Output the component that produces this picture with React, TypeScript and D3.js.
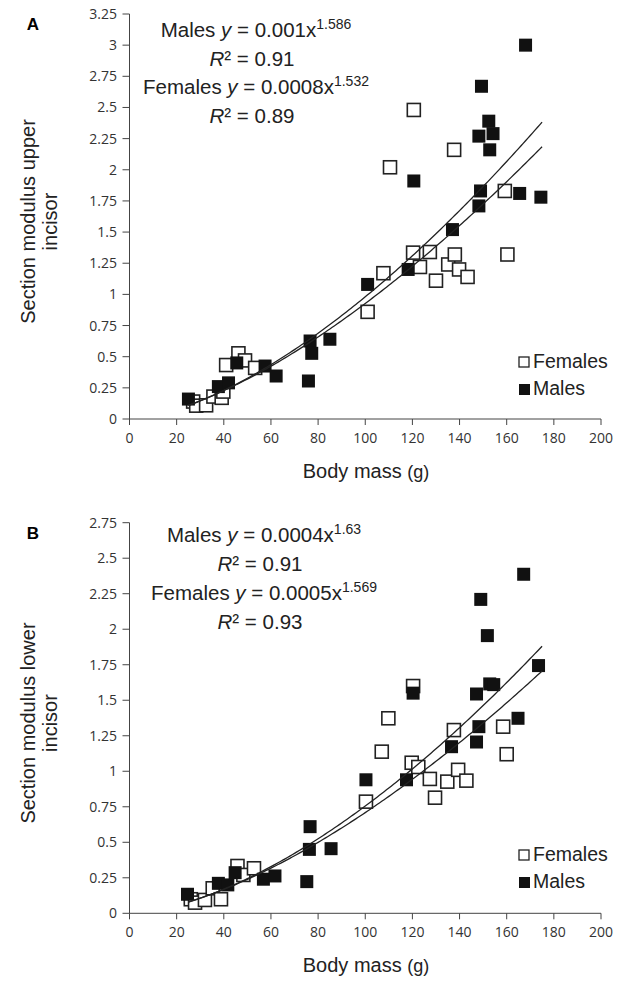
import React from "react";
import * as d3 from "d3";

// body mass (g), section modulus
const femalesUpper: [number, number][] = [
  [27, 0.14], [28.3, 0.107], [32.5, 0.11], [35.6, 0.18], [39.1, 0.17], [39.8, 0.22],
  [41, 0.433], [46.2, 0.527], [49, 0.47], [53.3, 0.41], [101, 0.86], [107.7, 1.17],
  [110.5, 2.02], [120.3, 1.335], [120.6, 2.48], [123.2, 1.22], [127.4, 1.34], [130, 1.11],
  [135.2, 1.24], [137.7, 2.16], [138, 1.32], [139.8, 1.2], [143.4, 1.14], [159.2, 1.83],
  [160.3, 1.32],
];
const malesUpper: [number, number][] = [
  [25, 0.16], [37.7, 0.26], [42, 0.29], [45.5, 0.45], [57.5, 0.425], [62.2, 0.345],
  [75.9, 0.305], [76.6, 0.626], [77.3, 0.527], [85, 0.64], [101, 1.08], [118.2, 1.2],
  [120.6, 1.91], [137, 1.52], [148.2, 1.71], [148.9, 1.83], [148.2, 2.27], [149.3, 2.67],
  [152.4, 2.39], [152.8, 2.16], [154.2, 2.29], [165.5, 1.81], [168, 3.0], [174.5, 1.78],
];
const femalesLower: [number, number][] = [
  [26, 0.099], [27.8, 0.075], [32, 0.094], [35.3, 0.176], [38.8, 0.099], [45.8, 0.333],
  [48.3, 0.27], [52.8, 0.317], [100.3, 0.786], [107, 1.138], [109.8, 1.373], [119.7, 1.06],
  [120.3, 1.6], [122.5, 1.03], [127.4, 0.946], [129.6, 0.814], [134.8, 0.927], [137.6, 1.29],
  [139.4, 1.01], [142.9, 0.934], [158.5, 1.314], [160, 1.12],
];
const malesLower: [number, number][] = [
  [24.6, 0.134], [37.7, 0.211], [41.7, 0.2], [44.8, 0.286], [56.8, 0.24], [61.7, 0.263],
  [75.2, 0.223], [76.3, 0.45], [76.6, 0.61], [85.5, 0.455], [100.3, 0.94], [117.5, 0.94],
  [120.3, 1.55], [136.6, 1.173], [147.2, 1.544], [147.2, 1.206], [148.2, 1.314], [149, 2.21],
  [151.8, 1.955], [152.8, 1.615], [154.5, 1.61], [164.8, 1.373], [167.2, 2.387], [173.5, 1.744],
];

// power-law trendlines [a, b] for y = a * x^b, as drawn
const malesFitUpper = [0.00066, 1.586];
const femalesFitUpper = [0.0008, 1.532];
const malesFitLower = [0.000415, 1.63];
const femalesFitLower = [0.000516, 1.569];
const fitRange = [25, 175];

const xTicks = [0, 20, 40, 60, 80, 100, 120, 140, 160, 180, 200];
const yTicksUpper = [0, 0.25, 0.5, 0.75, 1, 1.25, 1.5, 1.75, 2, 2.25, 2.5, 2.75, 3, 3.25];
const yTicksLower = [0, 0.25, 0.5, 0.75, 1, 1.25, 1.5, 1.75, 2, 2.25, 2.5, 2.75];

const FONT = "'Liberation Sans', Arial, sans-serif";
const TICK_FONT = "'Open Sans', 'Liberation Sans', sans-serif";
const AXIS_COLOR = "#444";

type Eq = { label: string; coef: string; exp: string; r2: string };

type PanelProps = {
  letter: string;
  top: number;
  bottom: number;
  yTicks: number[];
  females: [number, number][];
  males: [number, number][];
  maleFit: number[];
  femaleFit: number[];
  titleLine: string;
  eqs: Eq[];
  eqTop: number;
  eqCenter: number;
  eqGap: number;
  legendY: number;
  marker: number;
};

const Panel = (p: PanelProps) => {
  const x = d3.scaleLinear().domain([0, 200]).range([129.5, 601]);
  const yMax = p.yTicks[p.yTicks.length - 1];
  const y = d3.scaleLinear().domain([0, yMax]).range([p.bottom, p.top]);
  const fmt = d3.format("~g");
  const curve = (fit: number[]) =>
    d3
      .line<number>()
      .x((v) => x(v))
      .y((v) => y(fit[0] * Math.pow(v, fit[1])))(d3.range(fitRange[0], fitRange[1] + 0.5, 1));
  const s = p.marker;
  const midY = (p.top + p.bottom) / 2;

  return (
    <g>
      <text x={33} y={p.top + 16} fontFamily={FONT} fontWeight="bold" fontSize={17} textAnchor="middle">
        {p.letter}
      </text>

      {/* y axis */}
      <line x1={x(0)} x2={x(0)} y1={p.top} y2={p.bottom} stroke={AXIS_COLOR} />
      {p.yTicks.map((t) => (
        <g key={t}>
          <line x1={x(0) - 7} x2={x(0)} y1={y(t)} y2={y(t)} stroke={AXIS_COLOR} />
          <text x={117} y={y(t) + 5} textAnchor="end" fontFamily={TICK_FONT} fontSize={14} fill="#333">
            {fmt(t)}
          </text>
        </g>
      ))}

      {/* x axis */}
      <line x1={x(0)} x2={x(200)} y1={p.bottom} y2={p.bottom} stroke={AXIS_COLOR} />
      {xTicks.map((t) => (
        <g key={t}>
          <line x1={x(t)} x2={x(t)} y1={p.bottom} y2={p.bottom + 6} stroke={AXIS_COLOR} />
          <text x={x(t)} y={p.bottom + 24} textAnchor="middle" fontFamily={TICK_FONT} fontSize={14} fill="#333">
            {t}
          </text>
        </g>
      ))}

      <text
        transform={`translate(35,${midY + 5}) rotate(-90)`}
        textAnchor="middle"
        fontFamily={FONT}
        fontSize={20}
        fill="#222"
      >
        {p.titleLine}
      </text>
      <text
        transform={`translate(57,${midY + 5}) rotate(-90)`}
        textAnchor="middle"
        fontFamily={FONT}
        fontSize={20}
        fill="#222"
      >
        incisor
      </text>
      <text x={366} y={p.bottom + 59} textAnchor="middle" fontFamily={FONT} fontSize={20} fill="#222">
        Body mass <tspan fontSize={18}>(g)</tspan>
      </text>

      {/* equations */}
      {p.eqs.map((e, i) => (
        <g key={e.label} fontFamily={FONT} fontSize={20.5} fill="#222">
          <text x={p.eqCenter} y={p.eqTop + i * 2 * p.eqGap} textAnchor="middle">
            {e.label} <tspan fontStyle="italic">y</tspan> = {e.coef}x
            <tspan fontSize={14} dy={-8}>{e.exp}</tspan>
          </text>
          <text x={p.eqCenter - 4} y={p.eqTop + (i * 2 + 1) * p.eqGap} textAnchor="middle">
            <tspan fontStyle="italic">R</tspan>² = {e.r2}
          </text>
        </g>
      ))}

      {/* markers */}
      {p.females.map((d, i) => (
        <rect
          key={"f" + i}
          x={x(d[0]) - s / 2}
          y={y(d[1]) - s / 2}
          width={s}
          height={s}
          fill="#fff"
          stroke="#222"
          strokeWidth={1.6}
        />
      ))}
      {p.males.map((d, i) => (
        <rect key={"m" + i} x={x(d[0]) - s / 2} y={y(d[1]) - s / 2} width={s} height={s} fill="#111" />
      ))}

      <path d={curve(p.maleFit) ?? ""} fill="none" stroke="#222" strokeWidth={1.3} />
      <path d={curve(p.femaleFit) ?? ""} fill="none" stroke="#222" strokeWidth={1.3} />

      {/* legend */}
      <rect x={519} y={p.legendY - 5} width={10} height={10} fill="#fff" stroke="#222" strokeWidth={1.3} />
      <text x={533} y={p.legendY + 6} fontFamily={FONT} fontSize={19.5} fill="#222">
        Females
      </text>
      <rect x={519} y={p.legendY + 22} width={11} height={11} fill="#111" />
      <text x={533} y={p.legendY + 33} fontFamily={FONT} fontSize={19.5} fill="#222">
        Males
      </text>
    </g>
  );
};

const App = () => (
  <svg
    width={621}
    height={982}
    style={{ position: "absolute", left: 0, top: 0, background: "#fff" }}
  >
    <rect width={621} height={982} fill="#fff" />
    <Panel
      letter="A"
      top={14}
      bottom={419}
      yTicks={yTicksUpper}
      females={femalesUpper}
      males={malesUpper}
      maleFit={malesFitUpper}
      femaleFit={femalesFitUpper}
      titleLine="Section modulus upper"
      eqs={[
        { label: "Males", coef: "0.001", exp: "1.586", r2: "0.91" },
        { label: "Females", coef: "0.0008", exp: "1.532", r2: "0.89" },
      ]}
      eqTop={37}
      eqCenter={256}
      eqGap={28.5}
      legendY={362}
      marker={13}
    />
    <Panel
      letter="B"
      top={522.7}
      bottom={913.3}
      yTicks={yTicksLower}
      females={femalesLower}
      males={malesLower}
      maleFit={malesFitLower}
      femaleFit={femalesFitLower}
      titleLine="Section modulus lower"
      eqs={[
        { label: "Males", coef: "0.0004", exp: "1.63", r2: "0.91" },
        { label: "Females", coef: "0.0005", exp: "1.569", r2: "0.93" },
      ]}
      eqTop={542}
      eqCenter={264}
      eqGap={29}
      legendY={855}
      marker={13}
    />
  </svg>
);

export default App;
